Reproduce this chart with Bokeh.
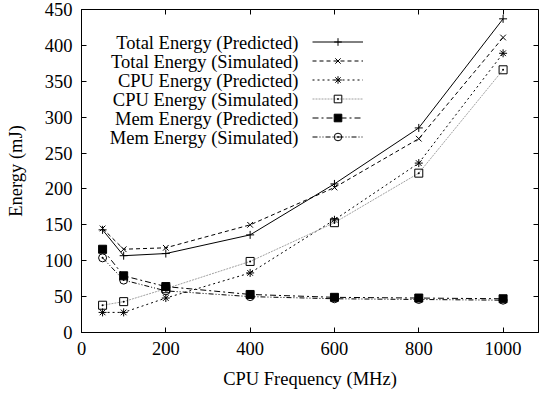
from bokeh.plotting import figure
from bokeh.models import (Range1d, LinearAxis, FixedTicker, Legend, LegendItem, Label,
                          CustomJSTickFormatter)
from bokeh.embed import file_html
from bokeh.resources import INLINE

freq = [50, 100, 200, 400, 600, 800, 1000]
total_pred = [143, 107, 110, 136, 207, 285, 437]
total_sim = [145, 116, 118, 150, 202, 270, 411]
cpu_pred = [28, 28, 48, 83, 157, 236, 389]
cpu_sim = [38, 43, 61, 99, 153, 222, 366]
mem_pred = [116, 79, 64, 53, 49, 48, 47]
mem_sim = [104, 73, 58, 50, 47, 46, 45]

labels = ["Total Energy (Predicted)", "Total Energy (Simulated)",
          "CPU Energy (Predicted)", "CPU Energy (Simulated)",
          "Mem Energy (Predicted)", "Mem Energy (Simulated)"]

x_ticks = [0, 200, 400, 600, 800, 1000]
y_ticks = [0, 50, 100, 150, 200, 250, 300, 350, 400, 450]

FONT = "Liberation Serif"
FS = "18.5px"

p = figure(width=539, height=396, output_backend="svg", toolbar_location=None,
           x_range=Range1d(0, 1084), y_range=Range1d(0, 450),
           min_border_left=81, min_border_right=1, min_border_top=9, min_border_bottom=64)
p.background_fill_color = "white"
p.border_fill_color = "white"
p.outline_line_color = "black"
p.outline_line_width = 1
p.xgrid.visible = False
p.ygrid.visible = False

for ax in (p.xaxis[0], p.yaxis[0]):
    ax.major_tick_in = 5
    ax.major_tick_out = 0
    ax.minor_tick_line_color = None
    ax.major_label_text_font = FONT
    ax.major_label_text_font_size = FS
    ax.axis_label_text_font = FONT
    ax.axis_label_text_font_size = FS
    ax.axis_label_text_font_style = "normal"
    ax.axis_line_color = "black"
    ax.major_label_text_color = "black"
    ax.axis_label_text_color = "black"

p.xaxis[0].ticker = FixedTicker(ticks=x_ticks)
p.yaxis[0].ticker = FixedTicker(ticks=y_ticks)
p.xaxis[0].axis_label = "CPU Frequency (MHz)"
p.yaxis[0].axis_label = "Energy (mJ)"
p.xaxis[0].major_label_standoff = 9
p.xaxis[0].axis_label_standoff = 11
p.yaxis[0].major_label_standoff = 9
p.yaxis[0].axis_label_standoff = 16

# mirror ticks (no labels)
blank = CustomJSTickFormatter(code="return ''")
top = LinearAxis(ticker=FixedTicker(ticks=x_ticks), major_tick_in=5, major_tick_out=0,
                 minor_tick_line_color=None, formatter=blank,
                 major_label_standoff=0, axis_line_color=None)
right = LinearAxis(ticker=FixedTicker(ticks=y_ticks), major_tick_in=5, major_tick_out=0,
                   minor_tick_line_color=None, formatter=blank,
                   major_label_standoff=0, axis_line_color=None)
p.add_layout(top, "above")
p.add_layout(right, "right")

styles = [
    dict(y=total_pred, color="black", dash="solid", marker="cross", fill=None),
    dict(y=total_sim, color="black", dash="4 3", marker="x", fill=None),
    dict(y=cpu_pred, color="black", dash="2 3", marker="asterisk", fill=None),
    dict(y=cpu_sim, color="#a0a0a0", dash="2 1", marker="square_dot", fill=None),
    dict(y=mem_pred, color="black", dash="6 3 2 3", marker="square", fill="black"),
    dict(y=mem_sim, color="black", dash="5 2 1 2 1 2", marker="circle_dot", fill=None),
]

items = []
for s in styles:
    ln = p.line(freq, s["y"], line_color=s["color"], line_dash=s["dash"], line_width=1)
    sc = p.scatter(freq, s["y"], marker=s["marker"], size=8, line_color="black",
                   fill_color=s["fill"], line_width=1)
    items.append(LegendItem(label="", renderers=[ln, sc]))

legend = Legend(items=items, location=(231, 186), glyph_width=51, glyph_height=19,
                label_height=19, label_width=0, label_standoff=0, spacing=0,
                padding=0, margin=0, border_line_color=None, background_fill_alpha=0)
p.add_layout(legend, "center")

row_y = [42, 61, 80, 99, 118, 137]
for lab, ry in zip(labels, row_y):
    p.add_layout(Label(x=298 - 81, y=323 - (ry - 9), x_units="screen", y_units="screen",
                       text=lab, text_align="right", text_baseline="middle",
                       text_font=FONT, text_font_size=FS, text_color="black"))

open("out.html", "w").write(file_html(p, INLINE))
